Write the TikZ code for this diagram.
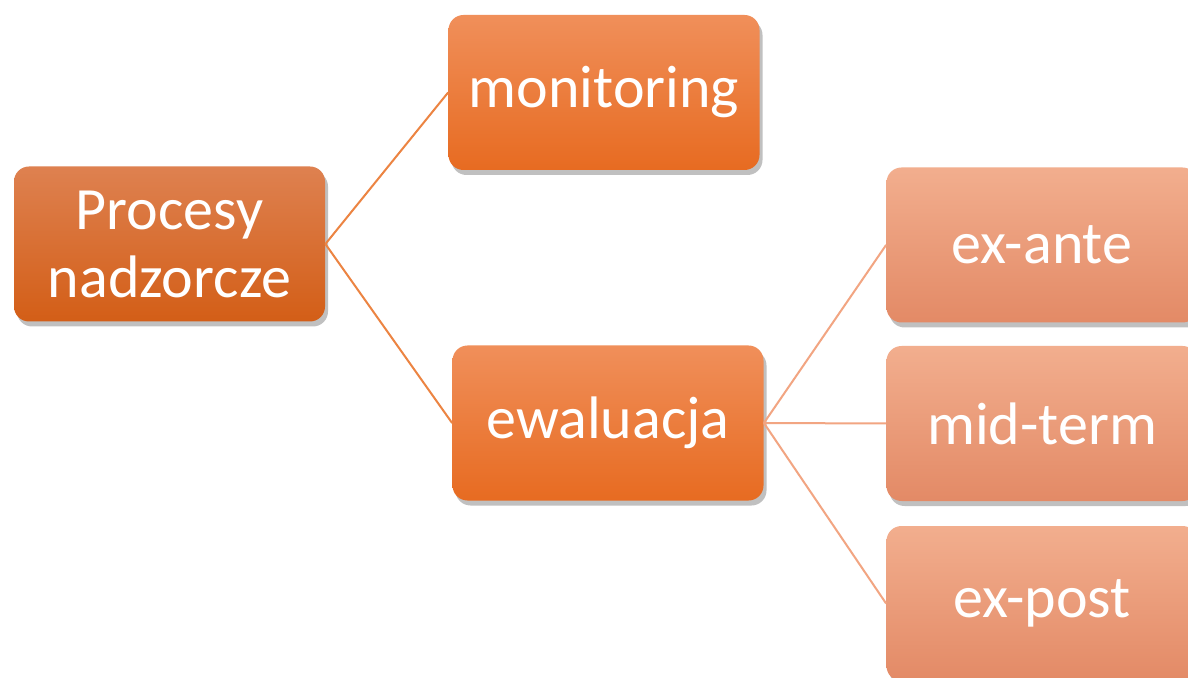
\documentclass[tikz,border=0pt]{standalone}
\usepackage{fontspec}
\setmainfont{Carlito}
\usetikzlibrary{positioning,shadows}
\definecolor{rootTop}{HTML}{DE8150}
\definecolor{rootBot}{HTML}{D35E17}
\definecolor{midTop}{HTML}{F08F5A}
\definecolor{midMid}{HTML}{F27E32}
\definecolor{midBot}{HTML}{E76B21}
\definecolor{leafTop}{HTML}{F2AE8E}
\definecolor{leafMid}{HTML}{F39C78}
\definecolor{leafBot}{HTML}{E38A66}
\definecolor{linkDark}{HTML}{EC8442}
\definecolor{linkLight}{HTML}{F2A582}

\begin{document}
\begin{tikzpicture}[x=0.5pt, y=-0.5pt, every node/.style={font=\fontsize{30}{34}\selectfont}]
  % rounded boxes with a soft shadow underneath
  \tikzset{card/.style={rounded corners=7.5pt, minimum width=155.5pt, minimum height=77.5pt,
      inner sep=0pt, align=center, text=white,
      drop shadow={shadow xshift=1.5pt, shadow yshift=-2.5pt, opacity=0.35, fill=black!70}},
    rootcard/.style={card, top color=rootTop, bottom color=rootBot},
    midcard/.style={card, top color=midTop, middle color=midMid, bottom color=midBot},
    leafcard/.style={card, top color=leafTop, middle color=leafMid, bottom color=leafBot},
    link/.style={line width=1pt, linkDark},
    sublink/.style={line width=1pt, linkLight}}
  \clip (0,0) rectangle (1188,678);
  \fill[white] (0,0) rectangle (1188,678);

  % the boxes
  \node[rootcard] (proc) at (169.5,244) {Procesy\\nadzorcze};
  \node[midcard] (mon) at (604,92.5) {monitoring};
  \node[midcard] (ewa) at (608,423) {ewaluacja};
  \node[leafcard] (exa) at (1042,245) {ex-ante};
  \node[leafcard] (mid) at (1042,423.5) {mid-term};
  \node[leafcard] (exp) at (1042,603.5) {ex-post};

  % connectors between the boxes
  \draw[link] (proc.east) -- (mon.west);
  \draw[link] (proc.east) -- (ewa.west);
  \draw[sublink] (ewa.east) -- (exa.west);
  \draw[sublink] (ewa.east) -- (mid.west);
  \draw[sublink] (ewa.east) -- (exp.west);
\end{tikzpicture}
\end{document}
